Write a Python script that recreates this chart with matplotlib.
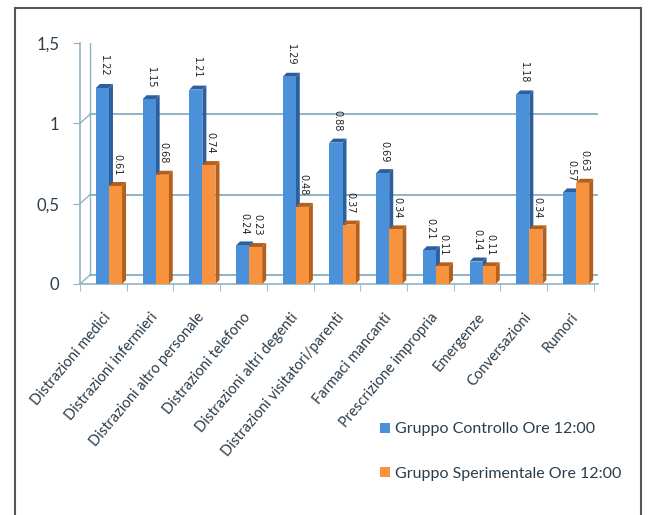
import matplotlib.pyplot as plt
import matplotlib.transforms as mtransforms
from matplotlib.patches import Polygon, Rectangle
import numpy as np

categorie = ["Distrazioni medici", "Distrazioni infermieri", "Distrazioni altro personale",
             "Distrazioni telefono", "Distrazioni altri degenti", "Distrazioni visitatori/parenti",
             "Farmaci mancanti", "Prescrizione impropria", "Emergenze", "Conversazioni", "Rumori"]
controllo = [1.22, 1.15, 1.21, 0.24, 1.29, 0.88, 0.69, 0.21, 0.14, 1.18, 0.57]
sperimentale = [0.61, 0.68, 0.74, 0.23, 0.48, 0.37, 0.34, 0.11, 0.11, 0.34, 0.63]
serie = ["Gruppo Controllo Ore 12:00", "Gruppo Sperimentale Ore 12:00"]
yticks = [0, 0.5, 1, 1.5]
ytick_labels = ["0", "0,5", "1", "1,5"]

blu, blu_scuro = "#4b91d9", "#2c5f9e"
arancio, arancio_scuro = "#f7923e", "#b45f1c"
griglia = "#8fb3c4"
testo = "#2b3d4c"

plt.rcParams['font.family'] = ['Lato', 'DejaVu Sans']

fig = plt.figure(figsize=(6.48, 5.15), dpi=100)
W, H = 648, 515
ax = fig.add_axes([80 / W, 1 - 284 / H, (598 - 80) / W, (284 - 43) / H])
ax.set_xlim(-0.62, 10.47)
ax.set_ylim(0, 1.5)
ax.patch.set_alpha(0)

# depth of the 3d look, in pixels and data units
px_x = (10.47 + 0.62) / (598 - 80)
px_y = 1.5 / (284 - 43)
back = ax.transData + mtransforms.ScaledTranslation(0.10, 0.09, fig.dpi_scale_trans)

# back wall gridlines and floor
for v in yticks:
    ax.plot([-0.62, 10.47], [v, v], color=griglia, lw=1.4, transform=back, zorder=1)
    ax.plot([-0.62, -0.62 + 10 * px_x], [v, v + 9 * px_y], color=griglia, lw=1.0, zorder=1)
ax.plot([-0.62, -0.62], [0, 1.5], color=griglia, lw=1.0, transform=back, zorder=1)
ax.plot([10.47, 10.47 + 10 * px_x], [0, 9 * px_y], color=griglia, lw=1.0, zorder=1)

w = 0.28
dx, dy = 4 * px_x, 4 * px_y
x = np.arange(len(categorie))


def bar3d(xc, h, front, side):
    x0, x1 = xc - w / 2, xc + w / 2
    ax.add_patch(Polygon([(x1, 0), (x1 + dx, dy), (x1 + dx, h + dy), (x1, h)],
                         closed=True, facecolor=side, edgecolor='none', zorder=3))
    ax.add_patch(Polygon([(x0, h), (x0 + dx, h + dy), (x1 + dx, h + dy), (x1, h)],
                         closed=True, facecolor=side, edgecolor='none', zorder=3))
    ax.add_patch(Rectangle((x0, 0), w, h, facecolor=front, edgecolor='none', zorder=3))


for i in range(len(categorie)):
    bar3d(x[i] - w / 2, controllo[i], blu, blu_scuro)
    bar3d(x[i] + w / 2, sperimentale[i], arancio, arancio_scuro)
    for xc, v in [(x[i] - w / 2, controllo[i]), (x[i] + w / 2, sperimentale[i])]:
        ax.annotate(f"{v:.2f}", (xc, v), xytext=(1, 8), textcoords='offset points',
                    rotation=270, ha='center', va='bottom', fontsize=7,
                    color='#222222', family='DejaVu Sans', zorder=5)

# legend proxies
ax.bar([0], [0], color=blu, label=serie[0])
ax.bar([0], [0], color=arancio, label=serie[1])

for s in ['top', 'right']:
    ax.spines[s].set_visible(False)
for s in ['left', 'bottom']:
    ax.spines[s].set_color(griglia)
    ax.spines[s].set_linewidth(1.2)

ax.set_yticks(yticks)
ax.set_yticklabels(ytick_labels, fontsize=12, color=testo)
ax.tick_params(axis='y', length=5, color=griglia, pad=10)

ax.set_xticks(x)
ax.set_xticklabels(categorie, rotation=50, ha='right', va='top',
                   rotation_mode='anchor', fontsize=10.5, color=testo)
ax.set_xticks(np.arange(len(categorie) + 1) - 0.62, minor=True)
ax.tick_params(axis='x', which='major', length=0, pad=19)
ax.tick_params(axis='x', which='minor', length=5, color=griglia)
shift = mtransforms.ScaledTranslation(-0.06, 0, fig.dpi_scale_trans)
for lab in ax.get_xticklabels():
    lab.set_transform(lab.get_transform() + shift)

fig.legend(loc='upper left', bbox_to_anchor=(366 / W, 1 - 408 / H), frameon=False,
           fontsize=11.5, labelspacing=1.9, handlelength=0.6, handleheight=0.6,
           handletextpad=0.3, labelcolor=testo)

# outer frame
fig.add_artist(Rectangle((15 / W, -0.05), (641 - 15) / W, 1 - 8 / H + 0.05,
                         transform=fig.transFigure, fill=False,
                         edgecolor='#555555', lw=1.5))

fig.savefig("out.png", dpi=100)
